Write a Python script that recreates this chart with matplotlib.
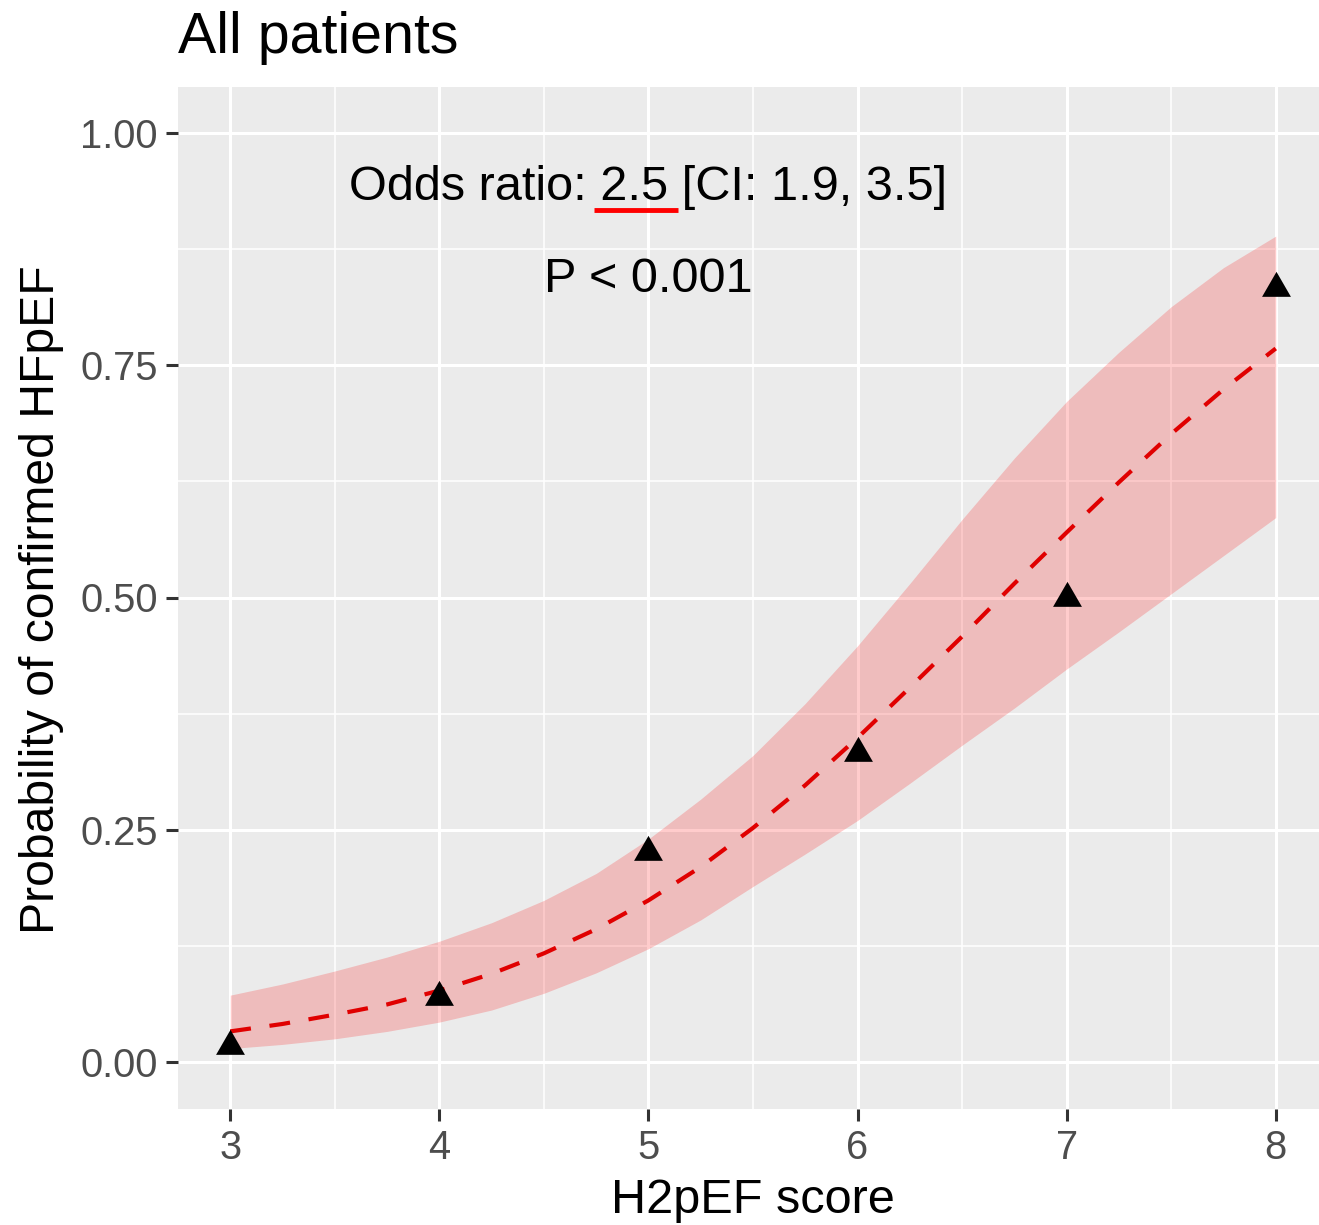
import matplotlib
matplotlib.use("Agg")
import matplotlib.pyplot as plt
from matplotlib.path import Path

plt.rcParams['font.family'] = ['Liberation Sans', 'DejaVu Sans']

# Observed proportions per score
scores = [3, 4, 5, 6, 7, 8]
observed = [0.017, 0.070, 0.226, 0.333, 0.500, 0.833]

# Fitted logistic curve and confidence band
fit_x = [3, 3.25, 3.5, 3.75, 4, 4.25, 4.5, 4.75, 5, 5.25, 5.5,
         5.75, 6, 6.25, 6.5, 6.75, 7, 7.25, 7.5, 7.75, 8]
fit_y = [0.033, 0.041, 0.051, 0.062, 0.077, 0.095, 0.117, 0.143, 0.174, 0.210, 0.252,
         0.298, 0.349, 0.403, 0.458, 0.515, 0.570, 0.624, 0.676, 0.724, 0.768]
ci_low = [0.0145, 0.019, 0.025, 0.033, 0.043, 0.056, 0.074, 0.096, 0.122, 0.153, 0.189,
          0.224, 0.260, 0.300, 0.341, 0.381, 0.423, 0.463, 0.504, 0.545, 0.586]
ci_high = [0.072, 0.084, 0.098, 0.113, 0.130, 0.150, 0.174, 0.203, 0.240, 0.283, 0.330,
           0.386, 0.448, 0.515, 0.584, 0.650, 0.711, 0.764, 0.813, 0.855, 0.889]

x_ticks = [3, 4, 5, 6, 7, 8]
y_ticks = [0.00, 0.25, 0.50, 0.75, 1.00]
y_ticklabels = ["0.00", "0.25", "0.50", "0.75", "1.00"]

title = "All patients"
xlabel = "H2pEF score"
ylabel = "Probability of confirmed HFpEF"
or_text = "Odds ratio: 2.5 [CI: 1.9, 3.5]"
p_text = "P < 0.001"

W, H = 1319, 1225
fig = plt.figure(figsize=(W / 100, H / 100), dpi=100)
ax = fig.add_axes([178 / W, 1 - 1108.5 / H, 1150 / W, 1022 / H])
ax.set_facecolor("#EBEBEB")
for s in ax.spines.values():
    s.set_visible(False)

ax.set_xlim(2.75, 8.25)
ax.set_ylim(-0.05, 1.05)
ax.set_xticks(x_ticks)
ax.set_yticks(y_ticks)
ax.set_yticklabels(y_ticklabels)
ax.set_xticks([3.5, 4.5, 5.5, 6.5, 7.5], minor=True)
ax.set_yticks([0.125, 0.375, 0.625, 0.875], minor=True)
ax.grid(True, which="major", color="white", linewidth=2.2)
ax.grid(True, which="minor", color="white", linewidth=1.1)
ax.set_axisbelow(True)
ax.tick_params(which="major", length=8.5, width=2.2, color="#333333",
               labelsize=28.7, labelcolor="#4D4D4D", pad=6)
ax.tick_params(which="minor", length=0)

ax.fill_between(fit_x, ci_low, ci_high, color="red", alpha=0.2, linewidth=0, zorder=2)
ax.plot(fit_x, fit_y, color="#E00000", linewidth=3.0, dashes=(5, 4.5), zorder=3)

tri = Path([(-0.866, -0.5), (0.866, -0.5), (0, 1.0), (-0.866, -0.5)],
           [Path.MOVETO, Path.LINETO, Path.LINETO, Path.CLOSEPOLY])
ax.plot(scores, observed, linestyle="none", marker=tri, markersize=24,
        color="black", markeredgewidth=0, zorder=4)

ax.text(5.0, 0.928, or_text, ha="center", va="baseline", fontsize=35, color="black")
ax.text(5.0, 0.829, p_text, ha="center", va="baseline", fontsize=35, color="black")
ax.plot([4.74, 5.14], [0.917, 0.917], color="red", linewidth=3.5, solid_capstyle="butt", zorder=5)

fig.text(178 / W, 1 - 53 / H, title, fontsize=41.3, ha="left", va="baseline", color="black")
fig.text(753 / W, 1 - 1213 / H, xlabel, fontsize=35, ha="center", va="baseline", color="black")
fig.text(42 / W, 1 - 600 / H, ylabel, fontsize=34.7, ha="center", va="center",
         rotation=90, color="black")

fig.savefig("out.png", dpi=100)
